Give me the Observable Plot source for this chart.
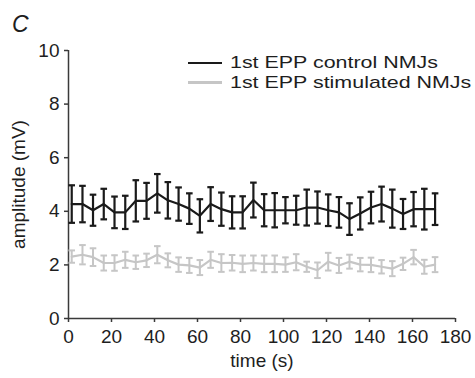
<!DOCTYPE html>
<html><head><meta charset="utf-8">
<script src="https://cdn.jsdelivr.net/npm/d3@7"></script>
<script src="https://cdn.jsdelivr.net/npm/@observablehq/plot@0.6"></script>
<style>
body{margin:0;background:#fff;}
#wrap{position:relative;width:475px;height:378px;font-family:"Liberation Sans",Arial,sans-serif;color:#1e1e1e;}
#chart svg{display:block;}
#panel{position:absolute;left:12px;top:13px;font-size:23px;font-style:italic;line-height:1;}
.leg{position:absolute;left:188px;font-size:17px;line-height:16px;height:16px;display:flex;align-items:center;white-space:nowrap;}
.leg .sw{display:inline-block;width:34px;height:2.4px;margin-right:8px;}
.leg .tx{display:inline-block;transform:scaleX(1.26);transform-origin:left center;}
</style></head><body>
<div id="wrap"><div id="chart"></div><div id="panel">C</div></div>
<script>
// time of each stimulus (s)
const time = [1.5, 6.5, 11.4, 16.4, 21.4, 26.4, 31.3, 36.3, 41.3, 46.2, 51.2, 56.2, 61.1, 66.1, 71.1, 76.1, 81.0, 86.0, 91.0, 95.9, 100.9, 105.9, 110.8, 115.8, 120.8, 125.8, 130.7, 135.7, 140.7, 145.6, 150.6, 155.6, 160.5, 165.5, 170.5];
// 1st EPP control NMJs: mean amplitude (mV) and SEM
const controlMean = [4.27, 4.27, 4.04, 4.27, 3.96, 3.96, 4.39, 4.39, 4.67, 4.41, 4.27, 4.10, 3.83, 4.27, 4.08, 3.96, 3.96, 4.42, 4.04, 4.04, 4.04, 4.04, 4.14, 4.14, 4.04, 3.96, 3.71, 3.92, 4.14, 4.27, 4.10, 3.90, 4.08, 4.08, 4.08];
const controlErr = [0.70, 0.68, 0.58, 0.57, 0.59, 0.62, 0.77, 0.67, 0.72, 0.68, 0.62, 0.57, 0.62, 0.63, 0.62, 0.60, 0.60, 0.65, 0.60, 0.64, 0.49, 0.54, 0.67, 0.60, 0.59, 0.57, 0.59, 0.60, 0.59, 0.65, 0.71, 0.56, 0.64, 0.76, 0.59];
// 1st EPP stimulated NMJs: mean amplitude (mV) and SEM
const stimMean = [2.31, 2.38, 2.29, 2.07, 2.07, 2.19, 2.10, 2.17, 2.38, 2.17, 2.01, 1.98, 1.90, 2.19, 2.07, 2.08, 2.04, 2.07, 2.04, 2.04, 2.01, 2.10, 1.93, 1.80, 2.12, 1.98, 2.12, 2.01, 2.00, 1.93, 1.86, 2.04, 2.29, 1.93, 2.01];
const stimErr = [0.23, 0.36, 0.33, 0.28, 0.29, 0.30, 0.25, 0.25, 0.32, 0.26, 0.27, 0.28, 0.28, 0.30, 0.33, 0.29, 0.31, 0.28, 0.31, 0.31, 0.27, 0.30, 0.19, 0.29, 0.33, 0.28, 0.26, 0.25, 0.27, 0.25, 0.28, 0.23, 0.27, 0.26, 0.28];

const seriesNames = ["1st EPP control NMJs", "1st EPP stimulated NMJs"];
const seriesColors = ["#1a1a1a", "#c6c6c6"];
const xTicks = [0, 20, 40, 60, 80, 100, 120, 140, 160, 180];
const yTicks = [0, 2, 4, 6, 8, 10];
const xLabel = "time (s)";
const yLabel = "amplitude (mV)";
const panelLabel = "C";

const mk = (mean, err) => time.map((t, i) => ({t, m: mean[i], lo: mean[i] - err[i], hi: mean[i] + err[i]}));
const control = mk(controlMean, controlErr);
const stim = mk(stimMean, stimErr);

const cap = {draw(ctx, size) { const r = Math.sqrt(size / Math.PI); ctx.moveTo(-r, 0); ctx.lineTo(r, 0); }};

function seriesMarks(d, color, w) {
  return [
    Plot.ruleX(d, {x: "t", y1: "lo", y2: "hi", stroke: color, strokeWidth: w}),
    Plot.dot(d, {x: "t", y: "lo", symbol: cap, r: 3.3, stroke: color, strokeWidth: w}),
    Plot.dot(d, {x: "t", y: "hi", symbol: cap, r: 3.3, stroke: color, strokeWidth: w}),
    Plot.line(d, {x: "t", y: "m", stroke: color, strokeWidth: 2.2})
  ];
}

const axisColor = "#3a3a3a";
const textColor = "#1e1e1e";
const chart = Plot.plot({
  width: 475, height: 378,
  marginTop: 50, marginBottom: 60, marginLeft: 68, marginRight: 20,
  style: {fontFamily: '"Liberation Sans", Arial, sans-serif', fontSize: "19px", color: textColor, background: "#fff", overflow: "visible"},
  x: {domain: [0, 180]},
  y: {domain: [0, 10]},
  marks: [
    Plot.axisX({ticks: xTicks, tickSize: 4, tickPadding: 7, stroke: axisColor, fill: textColor, strokeWidth: 1.5, fontSize: 19, label: xLabel, labelArrow: "none", labelAnchor: "center", labelOffset: 48}),
    Plot.axisY({ticks: yTicks, tickSize: 4, tickPadding: 5, stroke: axisColor, fill: textColor, strokeWidth: 1.5, fontSize: 19, label: yLabel, labelArrow: "none", labelAnchor: "center", labelOffset: 57}),
    Plot.ruleY([0], {stroke: axisColor, strokeWidth: 1.5}),
    Plot.ruleX([0], {stroke: axisColor, strokeWidth: 1.5}),
    ...seriesMarks(stim, seriesColors[1], 2),
    ...seriesMarks(control, seriesColors[0], 2.2)
  ]
});
document.getElementById("chart").appendChild(chart);
document.getElementById("panel").textContent = panelLabel;

const wrap = d3.select("#wrap");
seriesNames.forEach((name, i) => {
  const row = wrap.append("div").attr("class", "leg").style("top", (55 + i * 19.5) + "px");
  row.append("span").attr("class", "sw").style("background", seriesColors[i]);
  row.append("span").attr("class", "tx").text(name);
});
</script>
</body></html>
